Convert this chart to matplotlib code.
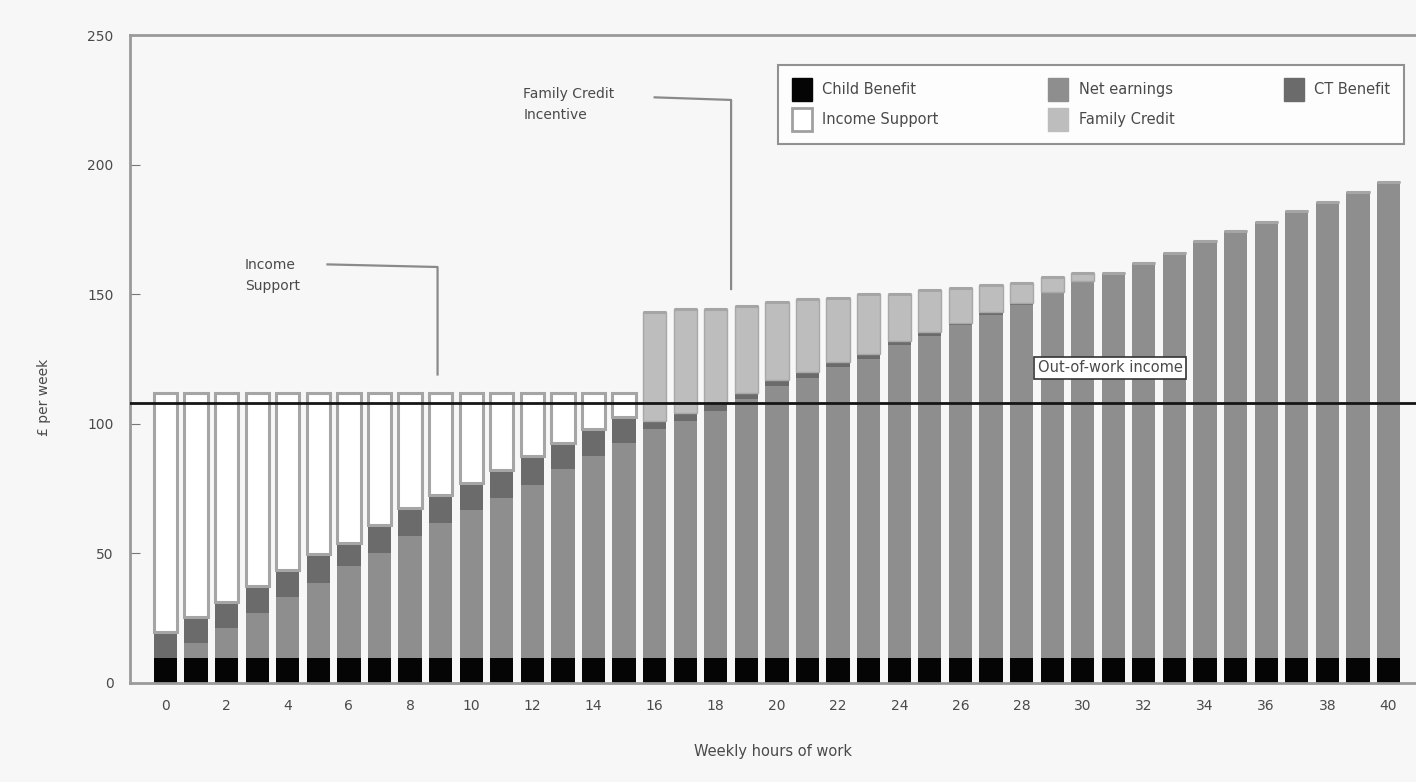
# -*- coding: utf-8 -*-
"""
Weekly income by hours of work, stacked by source
"""

import numpy as np
from matplotlib import pyplot as plt
from matplotlib.patches import Patch

# =============================================================================
# DATA
# =============================================================================
hours = list(range(0, 41))

child_benefit = [9.5] * 41

net_earnings = [0, 6, 11.5, 17.5, 23.5, 29, 35.5, 40.5, 47, 52, 57, 62, 67, 73, 78, 83,
                88.5, 91.5, 95.5, 100, 105, 108, 112.5, 115.5, 121, 124.5, 128.5, 132.5,
                136.5, 141.5, 145.5, 148.8, 152.7, 156.5, 161, 165, 168.5, 172.5, 176, 180, 184]

ct_benefit = [10, 10, 10, 10.5, 10.5, 11, 9, 11, 11, 11, 10.5, 10.5, 11, 10, 10.5, 10,
              3, 3, 3, 2.5, 2.5, 2.5, 2, 2, 1.5, 1.5, 1, 1, 0.5, 0, 0,
              0, 0, 0, 0, 0, 0, 0, 0, 0, 0]

family_credit = [0] * 16 + [42, 40.4, 36.4, 33.6, 30, 28.2, 24.6, 23.2, 18.2, 16.2,
                            13.5, 10.7, 7.9, 5.8, 3.3] + [0] * 10

total_out_of_work = 112  # top of bars while on Income Support
out_of_work_income = 108

xtick_labels = [str(h) for h in range(0, 41, 2)]
yticks = [0, 50, 100, 150, 200, 250]

# =============================================================================
# DERIVED
# =============================================================================
cb = np.array(child_benefit)
ne = np.array(net_earnings)
ct = np.array(ct_benefit)
fc = np.array(family_credit)
income_support = np.clip(total_out_of_work - (cb + ne + ct), 0, None)
income_support[16:] = 0

# =============================================================================
# PLOT
# =============================================================================
bg = '#f7f7f7'
txt = '#4a4a4a'
c_cb, c_ne, c_ct, c_fc = '#050505', '#8e8e8e', '#6b6b6b', '#bdbdbd'

fig = plt.figure(figsize=(14.16, 7.82), dpi=100, facecolor=bg)
ax = fig.add_axes([0.092, 0.127, 0.908, 0.828], facecolor=bg)

w = 0.76
x = np.array(hours)
ax.bar(x, cb, w, color=c_cb, linewidth=0)
ax.bar(x, ne, w, bottom=cb, color=c_ne, linewidth=0)
ax.bar(x, ct, w, bottom=cb + ne, color=c_ct, linewidth=0)
ax.bar(x, fc, w, bottom=cb + ne + ct, color=c_fc, edgecolor='#a8a8a8', linewidth=1)
ax.bar(x, income_support, w, bottom=cb + ne + ct + fc, color='white',
       edgecolor='#a5a5a5', linewidth=2.2)

ax.axhline(out_of_work_income, color='#151515', lw=2, zorder=5)

ax.set_xlim(-1.15, 40.9)
ax.set_ylim(0, 250)
ax.set_xticks(range(0, 41, 2))
ax.set_xticklabels(xtick_labels)
ax.set_yticks(yticks)
ax.tick_params(axis='both', colors=txt, labelsize=10, length=0, pad=12)
ax.tick_params(axis='y', direction='in', length=7, color='#777777', pad=12)

ax.spines['right'].set_visible(False)
for s in ['top', 'left', 'bottom']:
    ax.spines[s].set_color('#9a9a9a')
    ax.spines[s].set_linewidth(2)

ax.set_xlabel('Weekly hours of work', color=txt, fontsize=10.5, labelpad=22)
ax.set_ylabel('£ per week', color=txt, fontsize=10)
ax.yaxis.set_label_coords(-0.062, 0.44)

# annotations
ax.text(2.6, 164, 'Income\nSupport', color=txt, fontsize=10, va='top', linespacing=1.6)
ax.plot([5.3, 8.9, 8.9], [161.5, 160.5, 119], color='#8a8a8a', lw=1.6)

ax.text(11.7, 230, 'Family Credit\nIncentive', color=txt, fontsize=10, va='top', linespacing=1.6)
ax.plot([16.0, 18.5, 18.5], [226, 225, 152], color='#8a8a8a', lw=1.6)

ax.text(30.9, 121.6, 'Out-of-work income', color=txt, fontsize=10.5, ha='center', va='center',
        zorder=6, bbox=dict(boxstyle='square,pad=0.25', fc='white', ec='#333333', lw=1.2))

handles = [Patch(fc=c_cb, ec=c_cb, label='Child Benefit'),
           Patch(fc='white', ec='#a0a0a0', lw=2, label='Income Support'),
           Patch(fc=c_ne, ec=c_ne, label='Net earnings'),
           Patch(fc=c_fc, ec=c_fc, label='Family Credit'),
           Patch(fc=c_ct, ec=c_ct, label='CT Benefit')]
leg = ax.legend(handles=handles, ncol=3, loc='upper right', bbox_to_anchor=(0.996, 0.965),
                fontsize=10.5, frameon=True, fancybox=False, edgecolor='#777777',
                facecolor='white', handlelength=1.4, handleheight=2.0, columnspacing=7.5,
                labelspacing=0.5, borderpad=0.9, handletextpad=0.7)
leg.get_frame().set_linewidth(1.5)
for t in leg.get_texts():
    t.set_color(txt)

fig.savefig('out.png', dpi=100, facecolor=bg)
